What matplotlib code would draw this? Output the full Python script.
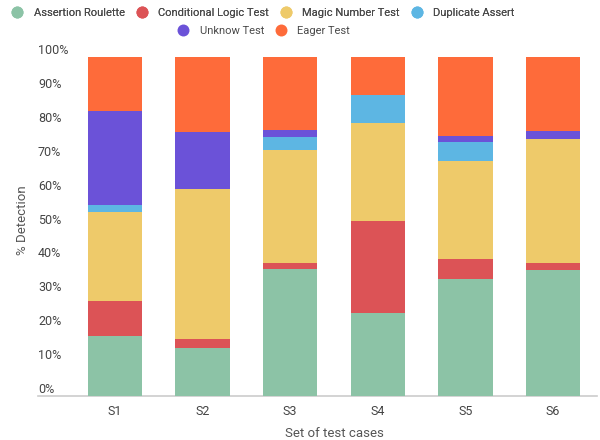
import matplotlib
matplotlib.use("Agg")
import matplotlib.pyplot as plt
import matplotlib.transforms as mtransforms
from matplotlib.lines import Line2D
import numpy as np

plt.rcParams['font.family'] = ['Roboto', 'DejaVu Sans']

categories = ["S1", "S2", "S3", "S4", "S5", "S6"]
series_names = ["Assertion Roulette", "Conditional Logic Test", "Magic Number Test",
                "Duplicate Assert", "Unknow Test", "Eager Test"]
assertion_roulette = [17.6, 14.0, 37.4, 24.3, 34.6, 37.1]
conditional_logic = [10.4, 2.8, 1.8, 27.3, 5.8, 2.1]
magic_number = [26.4, 44.2, 33.4, 29.0, 28.9, 36.7]
duplicate_assert = [1.9, 0.0, 3.9, 8.2, 5.8, 0.0]
unknow_test = [27.8, 16.8, 1.9, 0.0, 1.7, 2.2]
eager_test = [15.9, 22.2, 21.6, 11.2, 23.2, 21.9]
y_ticks = list(range(0, 101, 10))

colors = ["#8cc3a6", "#dc5356", "#eeca6a", "#5db6e3", "#6b52d8", "#fe6b3a"]
series = [assertion_roulette, conditional_logic, magic_number,
          duplicate_assert, unknow_test, eager_test]

fig = plt.figure(figsize=(6, 4.4), dpi=100)
W, H = 600, 440
ax = fig.add_axes([71 / W, (H - 395.7) / H, (597 - 71) / W, (395.7 - 57.3) / H])

x = np.arange(len(categories))
bottom = np.zeros(len(categories))
for vals, col, name in zip(series, colors, series_names):
    v = np.array(vals, dtype=float)
    ax.bar(x, v, bottom=bottom, width=0.62, color=col, label=name,
           edgecolor='none', linewidth=0)
    bottom += v

ax.set_xlim(-0.5, len(categories) - 0.5)
ax.set_ylim(0, 100)
for s in ax.spines.values():
    s.set_visible(False)

# baseline extends under the y tick labels
ax.plot([-0.063, 1.0], [0, 0], transform=ax.transAxes, color="#cccccc",
        lw=1.2, clip_on=False, zorder=0)

ax.set_xticks(x)
ax.set_xticklabels(categories, fontsize=9, color="#444444")
ax.tick_params(axis='x', length=0, pad=7)

ax.set_yticks(y_ticks)
ax.set_yticklabels([f"{t}%" for t in y_ticks], fontsize=9, color="#444444")
ax.tick_params(axis='y', length=0, pad=0)
offset = mtransforms.ScaledTranslation(-33 / 100, 8 / 100, fig.dpi_scale_trans)
for lbl in ax.get_yticklabels():
    lbl.set_horizontalalignment('left')
    lbl.set_transform(lbl.get_transform() + offset)

ax.set_xlabel("Set of test cases", fontsize=9.5, color="#555555", labelpad=6)
fig.text(22 / W, 1 - 220 / H, "% Detection", rotation=90, fontsize=9.5,
         color="#555555", ha='center', va='center')

handles = [Line2D([], [], marker='o', linestyle='none', markersize=8.6,
                  markerfacecolor=c, markeredgecolor='none') for c in colors]
legend_kw = dict(loc='center', frameon=False, fontsize=8, handlelength=1.0,
                 handletextpad=0.95, columnspacing=1.05, labelcolor="#4a4a4a",
                 borderpad=0)
leg1 = fig.legend(handles[:4], series_names[:4], ncol=4,
                  bbox_to_anchor=(263 / W, 1 - 13 / H), **legend_kw)
fig.add_artist(leg1)
fig.legend(handles[4:], series_names[4:], ncol=2,
           bbox_to_anchor=(264 / W, 1 - 31 / H), **legend_kw)

fig.savefig("out.png", dpi=100)
